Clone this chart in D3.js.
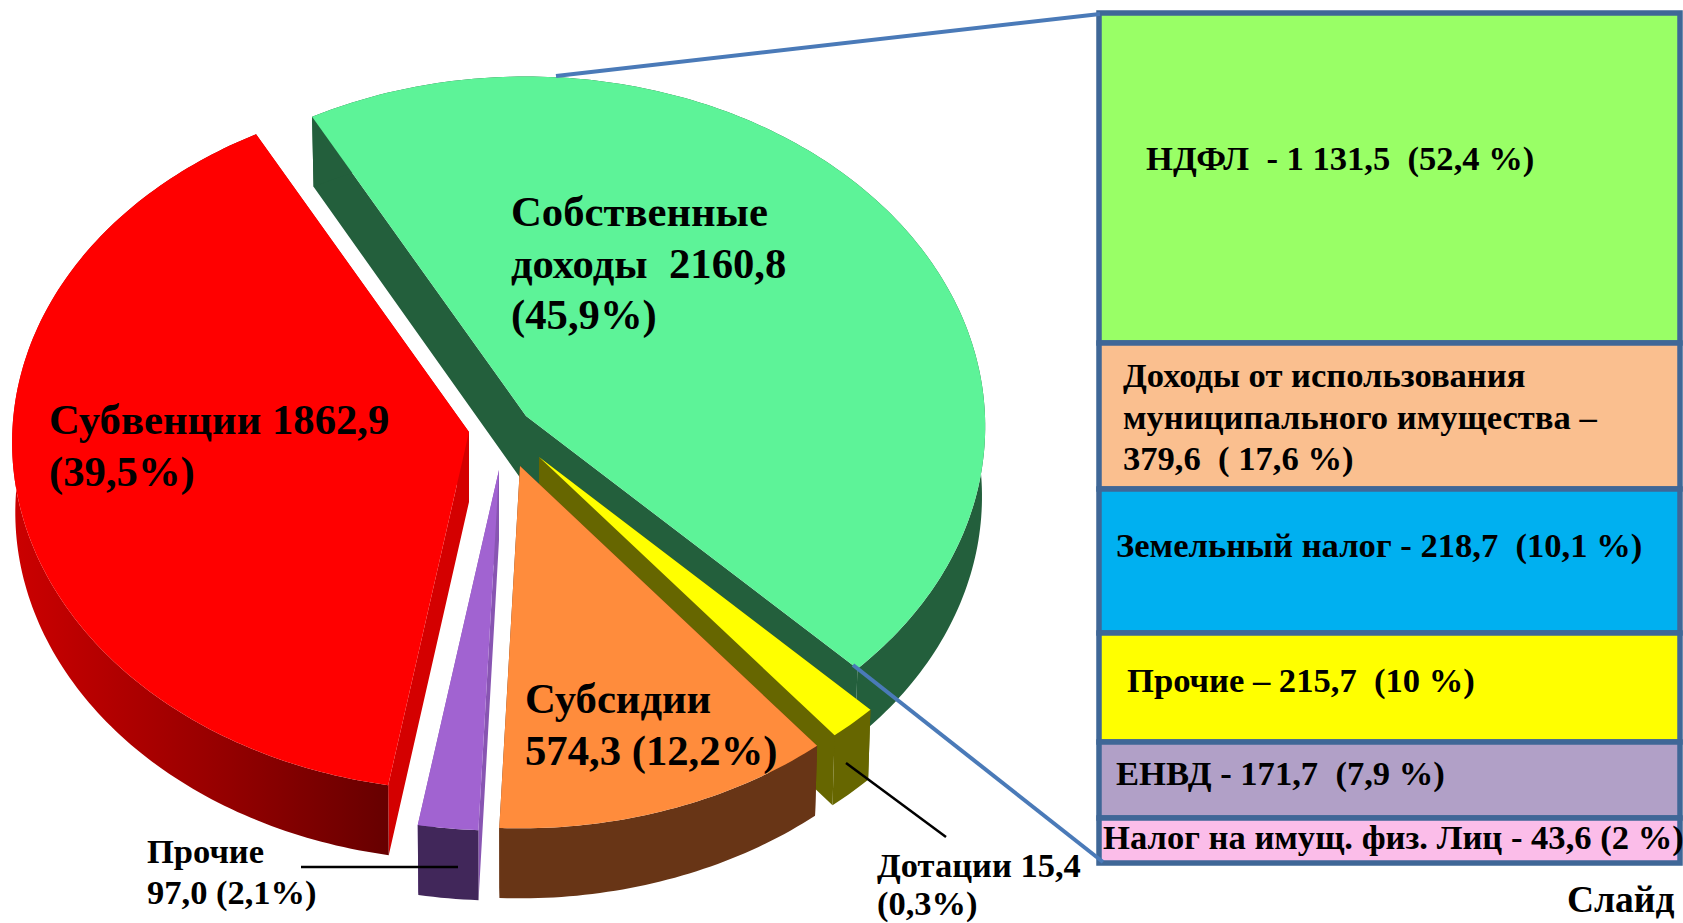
<!DOCTYPE html>
<html>
<head>
<meta charset="utf-8">
<script src="https://d3js.org/d3.v7.min.js"></script>
<style>
  html, body { margin: 0; background: #fff; }
  text { font-family: "Liberation Serif", serif; font-weight: bold; fill: #000; white-space: pre; }
</style>
</head>
<body>
<div id="chart"></div>
<script>
// Revenue amounts as printed on the chart
const sliceNames = ['Собственные доходы', 'Дотации', 'Субсидии', 'Прочие', 'Субвенции'];
const sliceAmounts = [2160.8, 15.4, 574.3, 97.0, 1862.9];
const slicePercents = [45.9, 0.3, 12.2, 2.1, 39.5];
// Angle each slice really takes in the picture, degrees (Дотации is drawn wider than its share)
const sliceDrawnDegrees = [163.6, 6, 41.5, 7.4, 141.5];

const boxLabels = [
  ['НДФЛ  - 1 131,5  (52,4 %)'],
  ['Доходы от использования', 'муниципального имущества –', '379,6  ( 17,6 %)'],
  ['Земельный налог - 218,7  (10,1 %)'],
  ['Прочие – 215,7  (10 %)'],
  ['ЕНВД - 171,7  (7,9 %)'],
  ['Налог на имущ. физ. Лиц - 43,6 (2 %)']
];
// Box heights, they are not proportional to the amounts
const boxDrawnHeights = [330, 146, 144, 109, 76, 45];

const width = 1683;
const height = 923;

const fmt = v => String(v.toFixed(1)).replace('.', ',');

// Layout of the exploded slices, same order as sliceNames
const sliceLayout = [
  { apex: [526, 416], r: 1, top: '#5df398', wall: '#235f3c', side: '#235f3c' },
  { apex: [539, 457], r: 1, top: '#ffff00', wall: '#666600', side: '#666600' },
  { apex: [520, 466], r: 1.005, top: '#ff8c3c', wall: '#683516', side: '#683516' },
  { apex: [499, 470], r: 1, top: '#a163d1', wall: '#41275a', side: '#8855b2' },
  { apex: [469, 432], r: 0.995, top: '#ff0000', wall: 'url(#redWall)', side: '#d40000' }
];
const rx = 459;
const ry = 350;
const tilt = 0.03; // front of the pie is a little closer to the viewer
const depth = 70;
const bottomShrink = 0.993; // lower rim sits a bit further away

const svg = d3.select('#chart').append('svg')
  .attr('width', width)
  .attr('height', height)
  .style('display', 'block');

const grad = svg.append('defs').append('linearGradient')
  .attr('id', 'redWall')
  .attr('gradientUnits', 'userSpaceOnUse')
  .attr('x1', 12).attr('x2', 390).attr('y1', 0).attr('y2', 0);
grad.append('stop').attr('offset', 0).attr('stop-color', '#cc0000');
grad.append('stop').attr('offset', 0.55).attr('stop-color', '#960000');
grad.append('stop').attr('offset', 1).attr('stop-color', '#660000');

const pie = d3.pie()
  .sort(null)
  .startAngle(-28.6 * Math.PI / 180)
  .endAngle(331.4 * Math.PI / 180);
const arcs = pie(sliceDrawnDegrees);

// Pie plane to screen
function project(d, angle, lower) {
  const u = d.r * Math.sin(angle);
  const v = -d.r * Math.cos(angle);
  const s = 1 + tilt * v;
  const k = lower ? bottomShrink : 1;
  return [d.apex[0] + rx * u * s * k, d.apex[1] + ry * v * s + (lower ? depth : 0)];
}

const line = d3.line();

function rimPoints(d, lower) {
  const n = Math.ceil((d.endAngle - d.startAngle) * 60);
  return d3.range(n + 1).map(i =>
    project(d, d.startAngle + (d.endAngle - d.startAngle) * i / n, lower));
}

const slices = arcs.map((d, i) => ({ ...d, ...sliceLayout[i] }));

// Back to front so the walls get covered properly
const drawOrder = [0, 4, 1, 2, 3];
const pieG = svg.append('g').attr('class', 'pie');

const sliceG = pieG.selectAll('g.slice')
  .data(drawOrder.map(i => slices[i]))
  .join('g')
  .attr('class', 'slice');

// Cut walls
sliceG.append('path')
  .attr('d', d => {
    const a = d.apex;
    const b = [a[0], a[1] + depth];
    return line([a, project(d, d.startAngle, false), project(d, d.startAngle, true), b]) + 'Z' +
      line([a, project(d, d.endAngle, false), project(d, d.endAngle, true), b]) + 'Z';
  })
  .attr('fill', d => d.side);

// Outer wall
sliceG.append('path')
  .attr('d', d => line(rimPoints(d, false).concat(rimPoints(d, true).reverse())) + 'Z')
  .attr('fill', d => d.wall);

// Top face
sliceG.append('path')
  .attr('d', d => line([d.apex].concat(rimPoints(d, false))) + 'Z')
  .attr('fill', d => d.top);

// Breakdown boxes on the right
const boxColors = ['#99ff66', '#fabf8f', '#00b0f0', '#ffff00', '#b1a0c7', '#fbbde9'];
const boxY = d3.scaleLinear()
  .domain([0, d3.sum(boxDrawnHeights)])
  .range([13, 863]);
const boxTops = d3.cumsum([0].concat(boxDrawnHeights));

svg.append('g').attr('class', 'boxes')
  .selectAll('rect')
  .data(boxDrawnHeights)
  .join('rect')
  .attr('x', 1099)
  .attr('width', 581)
  .attr('y', (d, i) => boxY(boxTops[i]))
  .attr('height', (d, i) => boxY(boxTops[i + 1]) - boxY(boxTops[i]))
  .attr('fill', (d, i) => boxColors[i])
  .attr('stroke', '#3f6797')
  .attr('stroke-width', 5.5);

// Connector and leader lines
const connectors = [
  { from: [556, 76], to: [1100, 14], color: '#4a7ab8', w: 4 },
  { from: [853, 665], to: [1103, 862], color: '#4a7ab8', w: 4 },
  { from: [301, 867], to: [458, 867], color: '#000', w: 2.5 },
  { from: [846, 763], to: [946, 837], color: '#000', w: 2.5 }
];
svg.append('g').selectAll('line')
  .data(connectors)
  .join('line')
  .attr('x1', d => d.from[0]).attr('y1', d => d.from[1])
  .attr('x2', d => d.to[0]).attr('y2', d => d.to[1])
  .attr('stroke', d => d.color)
  .attr('stroke-width', d => d.w);

// Text
const texts = [
  { x: 511, y: 226, size: 42.7, s: 'Собственные' },
  { x: 511, y: 278, size: 42.7, s: `доходы  ${fmt(sliceAmounts[0])}` },
  { x: 511, y: 329, size: 42.7, s: `(${fmt(slicePercents[0])}%)` },
  { x: 49, y: 434, size: 42.7, s: `${sliceNames[4]} ${fmt(sliceAmounts[4])}` },
  { x: 49, y: 486, size: 42.7, s: `(${fmt(slicePercents[4])}%)` },
  { x: 525, y: 713, size: 42.7, s: sliceNames[2] },
  { x: 525, y: 765, size: 42.7, s: `${fmt(sliceAmounts[2])} (${fmt(slicePercents[2])}%)` },
  { x: 147, y: 863, size: 34.5, s: sliceNames[3] },
  { x: 147, y: 904, size: 34.5, s: `${fmt(sliceAmounts[3])} (${fmt(slicePercents[3])}%)` },
  { x: 877, y: 877, size: 34.5, s: `${sliceNames[1]} ${fmt(sliceAmounts[1])}` },
  { x: 877, y: 915, size: 34.5, s: `(${fmt(slicePercents[1])}%)` },
  { x: 1146, y: 170, size: 34.6, s: boxLabels[0][0] },
  { x: 1123, y: 387, size: 34.6, s: boxLabels[1][0] },
  { x: 1123, y: 429, size: 34.6, s: boxLabels[1][1] },
  { x: 1123, y: 470, size: 34.6, s: boxLabels[1][2] },
  { x: 1116, y: 557, size: 34.6, s: boxLabels[2][0] },
  { x: 1127, y: 692, size: 34.6, s: boxLabels[3][0] },
  { x: 1116, y: 785, size: 34.6, s: boxLabels[4][0] },
  { x: 1103, y: 849, size: 34.6, s: boxLabels[5][0] },
  { x: 1567, y: 912, size: 37.5, s: 'Слайд' }
];
svg.append('g').attr('class', 'labels')
  .selectAll('text')
  .data(texts)
  .join('text')
  .attr('x', d => d.x)
  .attr('y', d => d.y)
  .attr('font-size', d => d.size)
  .text(d => d.s);
</script>
</body>
</html>
